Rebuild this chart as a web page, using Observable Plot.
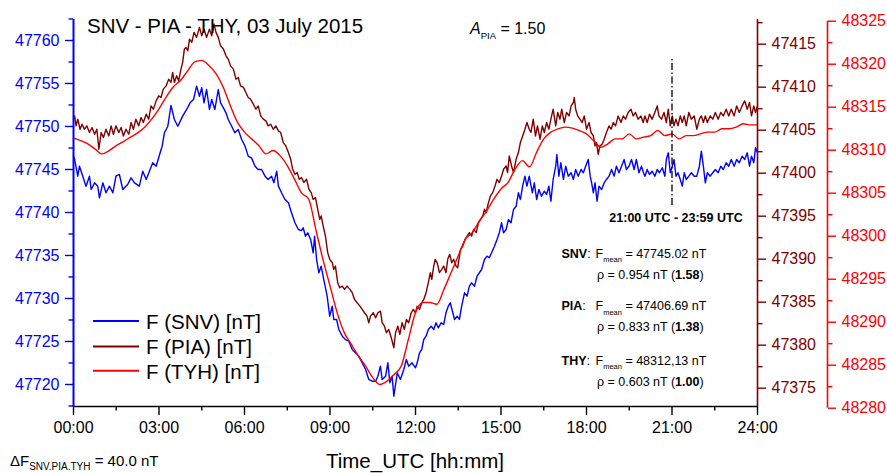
<!DOCTYPE html>
<html>
<head>
<meta charset="utf-8">
<script src="https://cdn.jsdelivr.net/npm/d3@7"></script>
<script src="https://cdn.jsdelivr.net/npm/@observablehq/plot@0.6"></script>
<style>
  body { margin: 0; background: #fff; }
  #chart { width: 887px; height: 473px; }
</style>
</head>
<body>
<div id="chart"></div>
<script>
// ---------- data: [hour UTC, F in nT] ----------
const snvData = [[0,47746.55],[0.04,47746.16],[0.15,47744.22],[0.21,47745.38],[0.44,47743.06],[0.56,47744.22],[0.62,47742.67],[0.74,47743.45],[0.85,47743.06],[0.91,47741.71],[1.03,47743.45],[1.14,47742.29],[1.26,47743.06],[1.38,47742.29],[1.49,47744.22],[1.61,47744.42],[1.73,47742.67],[1.9,47743.25],[2.02,47744.03],[2.14,47743.45],[2.31,47743.06],[2.43,47744.8],[2.55,47743.84],[2.78,47745.78],[2.9,47745.38],[3.04,47746.94],[3.11,47747.71],[3.19,47749.27],[3.31,47750.03],[3.42,47752.44],[3.54,47750.81],[3.66,47750.03],[3.83,47751.2],[4,47752.17],[4.09,47752.75],[4.21,47753.14],[4.32,47754.69],[4.42,47753.52],[4.5,47754.5],[4.58,47752.75],[4.67,47754.3],[4.77,47751.98],[4.85,47753.14],[4.96,47751.98],[5.08,47754.3],[5.16,47752.75],[5.26,47752.17],[5.35,47751.59],[5.43,47750.81],[5.55,47750.03],[5.66,47749.27],[5.78,47749.65],[5.9,47748.49],[6.02,47747.71],[6.13,47746.55],[6.25,47746.32],[6.37,47745.38],[6.48,47745],[6.6,47745],[6.72,47744.22],[6.83,47743.84],[6.95,47744.22],[7.03,47743.45],[7.13,47744.8],[7.19,47743.06],[7.3,47742.29],[7.42,47741.51],[7.54,47741.13],[7.65,47739.96],[7.77,47738.8],[7.89,47738.02],[8,47737.9],[8.06,47738.22],[8.14,47737.24],[8.22,47737.64],[8.32,47736.86],[8.41,47735.31],[8.46,47737.24],[8.53,47734.53],[8.61,47732.99],[8.69,47733.76],[8.78,47732.21],[8.9,47730.27],[8.99,47727.94],[9.08,47729.1],[9.13,47727.56],[9.23,47727.56],[9.31,47726.39],[9.43,47725.62],[9.54,47725.23],[9.66,47725.03],[9.78,47724.07],[9.89,47723.68],[10.01,47723.29],[10.13,47722.52],[10.25,47721.74],[10.36,47720.58],[10.48,47720.38],[10.6,47720.38],[10.68,47720.96],[10.77,47722.13],[10.83,47720.58],[10.95,47720.96],[11.03,47722.52],[11.1,47720.2],[11.18,47720.96],[11.24,47718.64],[11.36,47721.36],[11.47,47720.58],[11.59,47721.74],[11.68,47722.91],[11.76,47722.13],[11.88,47722.52],[12,47721.94],[12.06,47722.52],[12.14,47723.68],[12.22,47724.07],[12.29,47725.23],[12.37,47725.62],[12.45,47726.39],[12.55,47726.78],[12.64,47726.39],[12.72,47727.17],[12.8,47726.59],[12.9,47727.17],[12.99,47726.98],[13.07,47728.34],[13.15,47729.1],[13.22,47729.5],[13.31,47728.34],[13.37,47727.56],[13.46,47727.94],[13.54,47727.56],[13.62,47729.1],[13.72,47730.66],[13.81,47730.27],[13.89,47731.43],[13.97,47731.82],[14.07,47731.43],[14.16,47732.59],[14.24,47732.99],[14.32,47733.37],[14.42,47734.53],[14.51,47734.92],[14.59,47734.73],[14.67,47735.31],[14.77,47736.08],[14.86,47736.86],[14.94,47737.64],[15.02,47738.8],[15.09,47737.64],[15.18,47738.02],[15.26,47739.18],[15.35,47738.8],[15.44,47740.35],[15.53,47740.73],[15.61,47742.29],[15.68,47741.51],[15.76,47743.06],[15.84,47744.22],[15.91,47743.06],[15.99,47744.22],[16.1,47742.29],[16.17,47743.45],[16.25,47741.51],[16.33,47742.67],[16.42,47741.89],[16.52,47742.48],[16.6,47742.09],[16.68,47743.06],[16.75,47741.31],[16.83,47743.84],[16.92,47745.38],[16.96,47746.74],[17.03,47744.22],[17.1,47745.78],[17.19,47743.84],[17.27,47745.38],[17.36,47744.22],[17.46,47744.62],[17.54,47743.84],[17.62,47745],[17.71,47744.22],[17.81,47745],[17.89,47744.62],[17.97,47745.38],[18.06,47746.16],[18.13,47744.22],[18.18,47743.45],[18.24,47742.29],[18.3,47743.45],[18.37,47741.31],[18.44,47743.06],[18.53,47742.67],[18.62,47743.45],[18.7,47743.84],[18.79,47744.22],[18.88,47745],[18.97,47744.22],[19.05,47745.38],[19.14,47744.62],[19.23,47745.38],[19.32,47746.16],[19.4,47745],[19.49,47745.38],[19.58,47746.16],[19.67,47745],[19.75,47746.16],[19.84,47744.62],[19.93,47745.38],[19.99,47744.7],[20.05,47744.22],[20.13,47745],[20.21,47744.42],[20.3,47744.8],[20.4,47744.22],[20.48,47745],[20.56,47744.62],[20.66,47745.2],[20.75,47744.22],[20.8,47746.16],[20.87,47746.94],[20.94,47744.62],[21.01,47745.38],[21.07,47746.16],[21.14,47744.22],[21.21,47744.62],[21.29,47743.84],[21.36,47743.06],[21.43,47744.62],[21.5,47743.84],[21.59,47744.22],[21.68,47744.62],[21.78,47744.22],[21.87,47744.22],[21.96,47745.38],[22.03,47747.13],[22.1,47745.38],[22.17,47743.45],[22.24,47744.62],[22.34,47744.22],[22.43,47744.62],[22.52,47745],[22.62,47744.62],[22.71,47745.38],[22.8,47745],[22.9,47745.78],[22.99,47745.38],[23.08,47746.16],[23.18,47745.38],[23.27,47746.16],[23.36,47745.78],[23.46,47746.55],[23.55,47746.16],[23.64,47746.94],[23.72,47745.38],[23.79,47746.55],[23.87,47745.78],[23.93,47747.52],[24,47746.94]];

const piaData = [[0,47406.28],[0.04,47406.66],[0.09,47405.5],[0.15,47406.28],[0.23,47405.11],[0.3,47405.69],[0.38,47405.11],[0.47,47405.5],[0.56,47404.73],[0.65,47405.31],[0.74,47404.53],[0.82,47405.11],[0.89,47402.78],[0.97,47404.73],[1.05,47404.15],[1.14,47405.11],[1.24,47404.33],[1.32,47405.5],[1.4,47404.53],[1.49,47405.5],[1.59,47404.73],[1.67,47405.31],[1.75,47404.33],[1.84,47405.11],[1.94,47404.53],[2.02,47405.89],[2.1,47405.11],[2.19,47406.28],[2.29,47405.5],[2.37,47406.47],[2.45,47405.89],[2.55,47406.86],[2.64,47406.28],[2.72,47407.82],[2.8,47407.44],[2.9,47408.41],[2.99,47408.99],[3.07,47408.8],[3.15,47409.77],[3.25,47410.15],[3.34,47410.93],[3.42,47410.55],[3.48,47411.71],[3.54,47410.55],[3.62,47411.32],[3.69,47410.74],[3.77,47412.1],[3.83,47412.88],[3.89,47414.43],[3.95,47414.62],[4.01,47414.23],[4.07,47415.59],[4.15,47415.21],[4.23,47416.37],[4.32,47415.79],[4.42,47416.95],[4.5,47415.97],[4.58,47416.75],[4.67,47415.79],[4.77,47416.75],[4.85,47415.97],[4.93,47417.34],[5,47416.37],[5.08,47415.79],[5.16,47414.81],[5.26,47414.43],[5.35,47413.65],[5.43,47413.26],[5.51,47412.48],[5.61,47412.1],[5.7,47410.93],[5.78,47411.13],[5.86,47410.15],[5.96,47409.97],[6.05,47409.38],[6.13,47408.8],[6.21,47408.61],[6.31,47408.02],[6.4,47407.44],[6.48,47407.82],[6.57,47406.66],[6.66,47406.28],[6.75,47406.08],[6.83,47405.5],[6.92,47405.69],[7.01,47405.11],[7.1,47405.5],[7.19,47404.92],[7.27,47404.73],[7.36,47403.56],[7.45,47403.17],[7.54,47402.4],[7.62,47401.62],[7.69,47400.46],[7.77,47399.87],[7.85,47400.07],[7.92,47399.29],[8,47399.49],[8.08,47398.91],[8.18,47399.29],[8.26,47398.13],[8.34,47397.74],[8.41,47396.96],[8.49,47397.16],[8.57,47395.8],[8.64,47394.64],[8.69,47395.02],[8.76,47393.86],[8.84,47392.69],[8.92,47390.76],[8.99,47389.98],[9.08,47389.59],[9.13,47388.81],[9.19,47389.2],[9.27,47387.27],[9.34,47386.68],[9.43,47386.87],[9.51,47386.49],[9.6,47386.87],[9.7,47386.49],[9.78,47386.1],[9.86,47385.32],[9.95,47384.94],[10.05,47384.54],[10.13,47384.16],[10.21,47383.77],[10.3,47383.38],[10.36,47382.61],[10.42,47383.38],[10.52,47383.77],[10.6,47383.19],[10.68,47383.77],[10.77,47383.96],[10.83,47382.61],[10.91,47382.21],[10.98,47381.45],[11.06,47381.83],[11.15,47380.86],[11.24,47379.7],[11.3,47381.45],[11.38,47382.21],[11.45,47381.25],[11.53,47382.61],[11.61,47381.83],[11.68,47382.99],[11.76,47382.61],[11.85,47383.77],[11.92,47384.16],[12,47383.77],[12.06,47384.54],[12.14,47384.16],[12.22,47384.94],[12.29,47385.32],[12.37,47386.1],[12.45,47387.27],[12.52,47388.43],[12.57,47387.65],[12.64,47389.2],[12.69,47389.98],[12.76,47389.59],[12.84,47388.43],[12.92,47388.81],[12.99,47389.2],[13.07,47388.43],[13.13,47389.98],[13.2,47390.56],[13.27,47389.59],[13.34,47389.98],[13.42,47389.2],[13.48,47389.01],[13.58,47391.14],[13.66,47391.53],[13.74,47392.31],[13.81,47392.69],[13.89,47393.09],[13.97,47392.69],[14.04,47393.47],[14.13,47393.09],[14.21,47394.25],[14.28,47394.64],[14.36,47395.02],[14.42,47395.8],[14.48,47395.41],[14.56,47396.58],[14.63,47397.35],[14.71,47397.74],[14.79,47398.51],[14.86,47399.29],[14.94,47398.91],[15.02,47399.68],[15.09,47400.46],[15.18,47400.84],[15.23,47400.07],[15.29,47402],[15.37,47400.84],[15.44,47400.07],[15.53,47401.62],[15.61,47402.4],[15.68,47403.56],[15.76,47404.33],[15.84,47405.11],[15.91,47405.89],[15.99,47405.11],[16.05,47404.73],[16.13,47406.28],[16.21,47404.33],[16.28,47405.5],[16.37,47403.95],[16.45,47405.5],[16.52,47404.73],[16.6,47405.89],[16.68,47405.11],[16.75,47406.28],[16.83,47407.44],[16.92,47405.5],[16.99,47407.06],[17.07,47406.28],[17.13,47407.44],[17.22,47405.89],[17.3,47407.06],[17.39,47406.66],[17.46,47407.82],[17.54,47408.22],[17.57,47408.8],[17.62,47407.44],[17.69,47406.66],[17.77,47406.28],[17.85,47405.89],[17.92,47406.66],[18,47405.11],[18.09,47405.89],[18.16,47404.73],[18.24,47404.33],[18.3,47403.17],[18.35,47403.56],[18.41,47402.2],[18.47,47403.17],[18.55,47403.37],[18.62,47403.95],[18.7,47404.73],[18.79,47405.5],[18.86,47405.11],[18.94,47405.89],[19.02,47405.5],[19.11,47406.66],[19.21,47405.89],[19.29,47406.66],[19.37,47406.28],[19.46,47407.06],[19.56,47407.44],[19.64,47406.66],[19.72,47407.06],[19.81,47406.28],[19.91,47406.66],[19.99,47405.89],[20.05,47406.66],[20.13,47405.89],[20.21,47406.86],[20.3,47406.28],[20.4,47407.06],[20.48,47407.82],[20.54,47406.66],[20.63,47406.28],[20.72,47407.06],[20.8,47405.89],[20.87,47407.44],[20.94,47405.5],[21.01,47406.66],[21.07,47405.5],[21.14,47406.28],[21.21,47405.5],[21.29,47406.66],[21.36,47405.89],[21.43,47406.66],[21.5,47405.5],[21.59,47407.06],[21.68,47406.28],[21.78,47406.66],[21.87,47405.11],[21.96,47406.28],[22.03,47406.66],[22.1,47405.89],[22.17,47406.66],[22.24,47405.89],[22.34,47406.66],[22.43,47406.28],[22.52,47407.06],[22.62,47406.28],[22.71,47407.06],[22.8,47406.66],[22.9,47407.44],[22.99,47406.66],[23.08,47407.44],[23.18,47406.66],[23.27,47407.82],[23.36,47407.06],[23.46,47407.82],[23.55,47408.41],[23.64,47407.44],[23.72,47408.22],[23.79,47406.66],[23.87,47407.82],[23.93,47407.06],[24,47407.82]];

const thyData = [[0,48311.4],[0.25,48311.12],[0.5,48310.74],[0.75,48310.15],[1,48309.57],[1.25,48309.96],[1.5,48310.54],[1.75,48311],[2,48311.52],[2.25,48312.02],[2.5,48312.68],[2.75,48313.65],[3,48314.82],[3.25,48316.18],[3.5,48317.35],[3.75,48318.11],[4,48319.19],[4.25,48320.26],[4.5,48320.45],[4.75,48319.86],[5,48318.9],[5.25,48317.35],[5.5,48315.2],[5.75,48313.27],[6,48312.1],[6.25,48311.32],[6.5,48310.54],[6.75,48309.57],[7,48309.96],[7.25,48309.37],[7.5,48308.21],[7.75,48306.66],[8,48305.03],[8.25,48304.33],[8.5,48300.83],[8.75,48297.33],[9,48294.22],[9.25,48291.12],[9.5,48288.79],[9.75,48287.43],[10,48286.06],[10.25,48284.9],[10.5,48283.55],[10.75,48282.76],[11,48283.15],[11.25,48283.93],[11.5,48284.9],[11.75,48288.01],[12,48291.12],[12.25,48292.29],[12.5,48292.29],[12.75,48292.09],[13,48293.84],[13.25,48295.78],[13.5,48297.72],[13.75,48299.66],[14,48300.45],[14.25,48301.8],[14.5,48302.96],[14.75,48304.33],[15,48305.49],[15.25,48306.27],[15.5,48307.82],[15.75,48308.79],[16,48308.06],[16.25,48309.77],[16.5,48311.32],[16.75,48312.1],[17,48312.49],[17.25,48312.68],[17.5,48312.57],[17.75,48312.29],[18,48311.9],[18.25,48311.12],[18.5,48310.35],[18.75,48310.74],[19,48311.32],[19.25,48311.32],[19.5,48311.9],[19.75,48311.32],[20,48311.52],[20.25,48311.7],[20.5,48312.29],[20.75,48311.7],[21,48311.9],[21.25,48311.32],[21.5,48311.7],[21.75,48311.7],[22,48311.9],[22.25,48312.1],[22.5,48312.1],[22.75,48312.49],[23,48312.49],[23.25,48312.68],[23.5,48313.07],[23.75,48312.95],[24,48312.95]];

const seriesNames = ["F (SNV) [nT]", "F (PIA) [nT]", "F (TYH) [nT]"];

const timeTicks = [0,3,6,9,12,15,18,21,24];
const timeLabels = ["00:00","03:00","06:00","09:00","12:00","15:00","18:00","21:00","24:00"];
const timeMinor = [1.5,4.5,7.5,10.5,13.5,16.5,19.5,22.5];

const snvTicks = [47720,47725,47730,47735,47740,47745,47750,47755,47760];
const snvMinor = [47717.5,47722.5,47727.5,47732.5,47737.5,47742.5,47747.5,47752.5,47757.5,47762.5];
const piaTicks = [47375,47380,47385,47390,47395,47400,47405,47410,47415];
const piaMinor = [47377.5,47382.5,47387.5,47392.5,47397.5,47402.5,47407.5,47412.5,47417.5];
const thyTicks = [48280,48285,48290,48295,48300,48305,48310,48315,48320,48325];
const thyMinor = [48282.5,48287.5,48292.5,48297.5,48302.5,48307.5,48312.5,48317.5,48322.5];

// window 21:00 - 23:59 marker (time, SNV-scale extent)
const markerTime = [21];
const markerSpan = [47740.8, 47757.8];

const statStations = ["SNV", "PIA", "THY"];
const statMeans = ["47745.02", "47406.69", "48312,13"];
const statRho = ["0.954", "0.833", "0.603"];
const statRatio = ["1.58", "1.38", "1.00"];

// bottom value of each of the three y axes (all span 45 nT)
const SNV_BASE = 47717.44, PIA_BASE = 47372.87, THY_BASE = 48280.20;
const SPAN = 45;

// ---------- style ----------
const FONT = "'Liberation Sans', Arial, Helvetica, sans-serif";
const C_SNV = "#0000ff", C_PIA = "#800000", C_THY = "#ff0000";

const rel = (arr, base) => arr.map(v => v - base);
const fmt = base => d => String(Math.round(d + base));
const blank = () => "";

const plot = Plot.plot({
  width: 887,
  height: 473,
  marginLeft: 73,
  marginRight: 130,
  marginTop: 19,
  marginBottom: 67,
  x: {domain: [0, 24]},
  y: {domain: [0, SPAN]},
  style: {fontFamily: FONT, fontSize: "16px", background: "white", color: "black", overflow: "visible"},
  marks: [
    Plot.line(snvData, {x: d => d[0], y: d => d[1] - SNV_BASE, stroke: C_SNV, strokeWidth: 1.4}),
    Plot.line(piaData, {x: d => d[0], y: d => d[1] - PIA_BASE, stroke: C_PIA, strokeWidth: 1.4}),
    Plot.line(thyData, {x: d => d[0], y: d => d[1] - THY_BASE, stroke: C_THY, strokeWidth: 1.4, curve: "monotone-x"}),
    // 21:00 window marker
    Plot.ruleX(markerTime, {y1: markerSpan[0] - SNV_BASE, y2: markerSpan[1] - SNV_BASE, stroke: "black", strokeWidth: 1.3, strokeDasharray: "7,2.5,1.5,2.5"}),
    // x axis
    Plot.axisX(timeTicks, {tickSize: 9, tickPadding: 6, tickFormat: d => timeLabels[timeTicks.indexOf(d)], fontSize: 16, strokeWidth: 1.4, label: null}),
    Plot.axisX(timeMinor, {tickSize: 4.5, tickFormat: blank, strokeWidth: 1.4, label: null}),
    Plot.ruleY([0], {stroke: "black", strokeWidth: 1.5}),
    // SNV axis (left)
    Plot.axisY(rel(snvTicks, SNV_BASE), {anchor: "left", tickSize: 8, tickPadding: 6, tickFormat: fmt(SNV_BASE), color: C_SNV, fontSize: 16, strokeWidth: 1.4, label: null}),
    Plot.axisY(rel(snvMinor, SNV_BASE), {anchor: "left", tickSize: 4.5, tickFormat: blank, color: C_SNV, strokeWidth: 1.4, label: null}),
    Plot.ruleX([0], {stroke: C_SNV, strokeWidth: 2}),
    // PIA axis (right)
    Plot.axisY(rel(piaTicks, PIA_BASE), {anchor: "right", tickSize: 8, tickPadding: 6, tickFormat: fmt(PIA_BASE), color: C_PIA, fontSize: 16, strokeWidth: 1.4, label: null}),
    Plot.axisY(rel(piaMinor, PIA_BASE), {anchor: "right", tickSize: 4.5, tickFormat: blank, color: C_PIA, strokeWidth: 1.4, label: null}),
    Plot.ruleX([24], {stroke: C_PIA, strokeWidth: 1.6}),
    // THY axis (offset right)
    Plot.axisY(rel(thyTicks, THY_BASE), {anchor: "right", dx: 70, tickSize: 8, tickPadding: 6, tickFormat: fmt(THY_BASE), color: C_THY, fontSize: 16, strokeWidth: 1.4, label: null}),
    Plot.axisY(rel(thyMinor, THY_BASE), {anchor: "right", dx: 70, tickSize: 4.5, tickFormat: blank, color: C_THY, strokeWidth: 1.4, label: null}),
    Plot.ruleX([24], {dx: 70, y1: thyTicks[0] - THY_BASE, y2: thyTicks[thyTicks.length - 1] - THY_BASE, stroke: C_THY, strokeWidth: 1.6})
  ]
});

document.getElementById("chart").appendChild(plot);

// ---------- annotations ----------
const svg = d3.select(plot);

function richText(x, y, parts, size, anchor = "start") {
  const t = svg.append("text")
    .attr("x", x).attr("y", y)
    .attr("font-family", FONT)
    .attr("font-size", size)
    .attr("text-anchor", anchor)
    .attr("fill", "black")
    .style("white-space", "pre");
  for (const p of parts) {
    const s = t.append("tspan").text(p.text);
    if (p.bold) s.attr("font-weight", "bold");
    if (p.italic) s.attr("font-style", "italic");
    if (p.size) s.attr("font-size", p.size);
    if (p.dy) s.attr("dy", p.dy);
    if (p.x != null) s.attr("x", p.x);
  }
  return t;
}

// title
richText(87, 33.3, [{text: "SNV - PIA - THY, 03 July 2015"}], 20.5);
// amplitude factor
richText(470, 33.5, [
  {text: "A", italic: true},
  {text: "PIA", size: 9.5, dy: 5.5},
  {text: " = 1.50", dy: -5.5}
], 16);

// legend
const legendColors = [C_SNV, C_PIA, C_THY];
const legendY = [321, 346.5, 370.7];
seriesNames.forEach((name, i) => {
  svg.append("line")
    .attr("x1", 93).attr("x2", 139)
    .attr("y1", legendY[i]).attr("y2", legendY[i])
    .attr("stroke", legendColors[i]).attr("stroke-width", 2);
  richText(146, legendY[i] + 7.8, [{text: name}], 20.5);
});

// window label
richText(676, 222, [{text: "21:00 UTC - 23:59 UTC", bold: true}], 12.5, "middle");

// statistics
const statY = [257.5, 310, 364.5];
statStations.forEach((st, i) => {
  richText(561.5, statY[i], [
    {text: st, bold: true},
    {text: ":"},
    {text: "F", x: 595.5},
    {text: "mean", size: 7.5, dy: 4.5},
    {text: " = " + statMeans[i] + " nT", dy: -4.5}
  ], 12.5);
  richText(597, statY[i] + 21, [
    {text: "\u03c1 = " + statRho[i] + " nT ("},
    {text: statRatio[i], bold: true},
    {text: ")"}
  ], 12.5);
});

// x axis title
richText(415, 467.5, [{text: "Time_UTC [hh:mm]"}], 20.5, "middle");

// delta F
richText(10, 466, [
  {text: "\u0394F"},
  {text: "SNV.PIA.TYH", size: 10, dy: 3.5},
  {text: " = 40.0 nT", dy: -3.5}
], 15);
</script>
</body>
</html>
